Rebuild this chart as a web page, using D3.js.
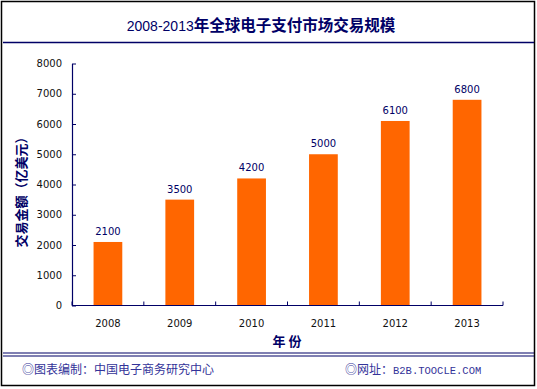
<!DOCTYPE html>
<html>
<head>
<meta charset="utf-8">
<script src="https://cdn.jsdelivr.net/npm/d3@7"></script>
<style>
  body { margin: 0; background: #fff; }
  svg { display: block; }
</style>
</head>
<body>
<div id="chart"></div>
<script>
const years = ["2008", "2009", "2010", "2011", "2012", "2013"];
const amounts = [2100, 3500, 4200, 5000, 6100, 6800];
const yTicks = [0, 1000, 2000, 3000, 4000, 5000, 6000, 7000, 8000];

const W = 537, H = 389;
const navy = "#000066";

const svg = d3.select("#chart").append("svg")
  .attr("width", W)
  .attr("height", H);

// outer frame
svg.append("rect")
  .attr("x", 1.5).attr("y", 1.5)
  .attr("width", 533).attr("height", 384)
  .attr("fill", "#fff")
  .attr("stroke", "#000")
  .attr("stroke-width", 1.5);

// title
const title = svg.append("text")
  .attr("x", 261)
  .attr("y", 31)
  .attr("text-anchor", "middle")
  .attr("fill", navy);
title.append("tspan")
  .style("font-family", "'Liberation Sans', Arial, sans-serif")
  .style("font-size", "14px")
  .text("2008-2013");
title.append("tspan")
  .style("font-family", "'Noto Sans CJK SC', sans-serif")
  .style("font-size", "15.5px")
  .style("font-weight", "bold")
  .text("年全球电子支付市场交易规模");

svg.append("line")
  .attr("x1", 3).attr("x2", 534)
  .attr("y1", 42.5).attr("y2", 42.5)
  .attr("stroke", navy).attr("stroke-width", 1.5);

// footer double line
[353, 356].forEach(yy => {
  svg.append("line")
    .attr("x1", 3).attr("x2", 534)
    .attr("y1", yy).attr("y2", yy)
    .attr("stroke", navy).attr("stroke-width", 1.2);
});

// scales
const x = d3.scaleBand()
  .domain(years)
  .range([72, 503])
  .paddingInner(0.6)
  .paddingOuter(0.3);

const y = d3.scaleLinear()
  .domain([0, 8000])
  .range([305.5, 63.5]);

// bars
svg.append("g").selectAll("rect")
  .data(years)
  .join("rect")
  .attr("x", d => x(d))
  .attr("y", (d, i) => y(amounts[i]))
  .attr("width", x.bandwidth())
  .attr("height", (d, i) => y(0) - y(amounts[i]))
  .attr("fill", "#FF6600");

// value labels
svg.append("g").selectAll("text")
  .data(years)
  .join("text")
  .attr("x", d => x(d) + x.bandwidth() / 2)
  .attr("y", (d, i) => y(amounts[i]) - 7)
  .attr("text-anchor", "middle")
  .attr("fill", navy)
  .style("font-family", "'DejaVu Sans', Verdana, sans-serif")
  .style("font-size", "10px")
  .text((d, i) => amounts[i]);

// y axis
const yAxis = d3.axisLeft(y)
  .tickValues(yTicks)
  .tickFormat(d3.format("d"))
  .tickSizeInner(-4)
  .tickSizeOuter(0)
  .tickPadding(10);

const gy = svg.append("g")
  .attr("transform", "translate(72,0)")
  .call(yAxis);
gy.select(".domain").attr("stroke", navy).attr("stroke-width", 1.2);
gy.selectAll(".tick line").attr("stroke", navy);
gy.selectAll(".tick text")
  .attr("fill", "#111")
  .style("font-family", "'DejaVu Sans', Verdana, sans-serif")
  .style("font-size", "10px");

// x axis
const step = x.step();
const x0 = x.range()[0];
const x1 = x.range()[1];
svg.append("line")
  .attr("x1", x0).attr("x2", x1)
  .attr("y1", y(0)).attr("y2", y(0))
  .attr("stroke", navy).attr("stroke-width", 1.2);

const bounds = years.map(d => x(d) - x.paddingOuter() * step).concat([x1]);
svg.append("g").selectAll("line")
  .data(bounds)
  .join("line")
  .attr("x1", d => d).attr("x2", d => d)
  .attr("y1", y(0)).attr("y2", y(0) - 4)
  .attr("stroke", navy);

svg.append("g").selectAll("text")
  .data(years)
  .join("text")
  .attr("x", d => x(d) + x.bandwidth() / 2)
  .attr("y", 327)
  .attr("text-anchor", "middle")
  .attr("fill", "#111")
  .style("font-family", "'DejaVu Sans', Verdana, sans-serif")
  .style("font-size", "10px")
  .text(d => d);

// axis titles
svg.append("text")
  .attr("x", 287)
  .attr("y", 346)
  .attr("text-anchor", "middle")
  .attr("fill", navy)
  .style("font-family", "'Noto Sans CJK SC', sans-serif")
  .style("font-size", "13px")
  .style("font-weight", "bold")
  .text("年 份");

svg.append("text")
  .attr("transform", "translate(26,189) rotate(-90)")
  .attr("text-anchor", "middle")
  .attr("fill", navy)
  .style("font-family", "'Noto Sans CJK SC', sans-serif")
  .style("font-size", "13px")
  .style("font-weight", "bold")
  .text("交易金额（亿美元）");

// footer texts
svg.append("text")
  .attr("x", 22)
  .attr("y", 374)
  .attr("fill", "#333399")
  .style("font-family", "'Noto Sans CJK SC', sans-serif")
  .style("font-size", "12px")
  .text("◎图表编制：中国电子商务研究中心");

const site = svg.append("text")
  .attr("x", 345)
  .attr("y", 374)
  .attr("fill", "#333399")
  .style("font-family", "'Noto Sans CJK SC', sans-serif")
  .style("font-size", "12px");
site.append("tspan").text("◎网址：");
site.append("tspan")
  .style("font-family", "'Liberation Mono', monospace")
  .style("font-size", "10.5px")
  .text("B2B.TOOCLE.COM");
</script>
</body>
</html>
